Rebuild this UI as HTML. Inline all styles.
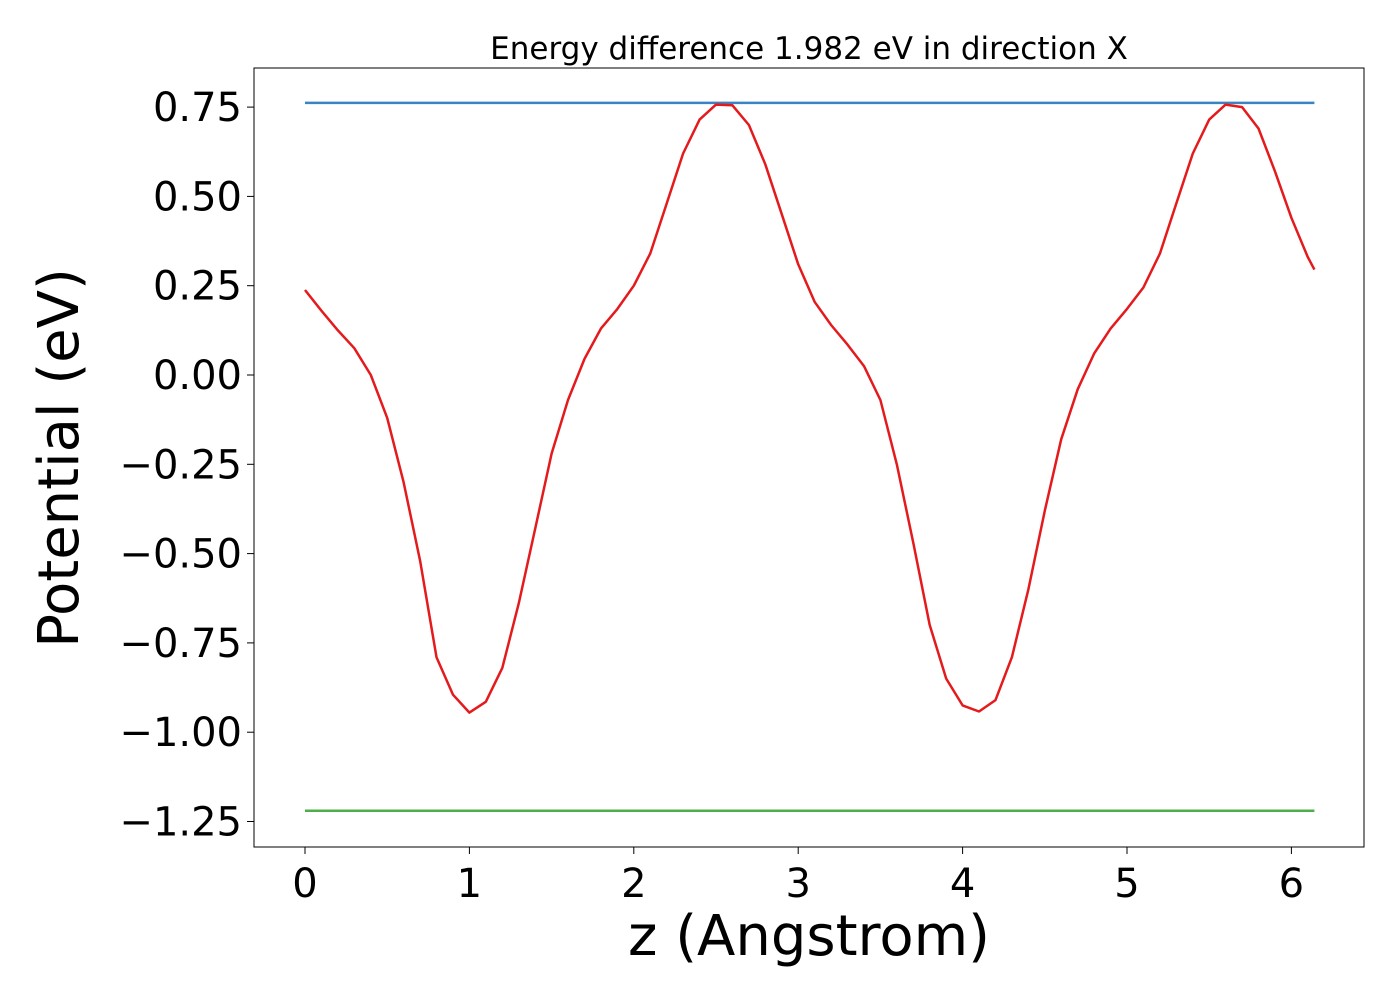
<!DOCTYPE html>
<html><head><meta charset="utf-8"><style>
body{margin:0;background:#fff;}
svg text{font-family:"DejaVu Sans","Liberation Sans",sans-serif;fill:#000;}
</style></head><body>
<svg id="chart" width="1400" height="1000" xmlns="http://www.w3.org/2000/svg">
<rect width="1400" height="1000" fill="#fff"/>
<g id="plot"></g>
</svg>
<script>
const zValues=[0,0.1,0.2,0.3,0.4,0.5,0.6,0.7,0.8,0.9,1.0,1.1,1.2,1.3,1.4,1.5,1.6,1.7,1.8,1.9,2.0,2.1,2.2,2.3,2.4,2.5,2.6,2.7,2.8,2.9,3.0,3.1,3.2,3.3,3.4,3.5,3.6,3.7,3.8,3.9,4.0,4.1,4.2,4.3,4.4,4.5,4.6,4.7,4.8,4.9,5.0,5.1,5.2,5.3,5.4,5.5,5.6,5.7,5.8,5.9,6.0,6.1,6.14];
const potential=[0.238,0.18,0.125,0.075,0.0,-0.12,-0.30,-0.52,-0.79,-0.895,-0.945,-0.915,-0.82,-0.64,-0.43,-0.22,-0.07,0.045,0.13,0.185,0.25,0.34,0.48,0.62,0.715,0.757,0.755,0.70,0.59,0.45,0.31,0.205,0.14,0.085,0.025,-0.07,-0.25,-0.47,-0.70,-0.85,-0.925,-0.942,-0.91,-0.79,-0.60,-0.38,-0.18,-0.04,0.06,0.13,0.185,0.245,0.34,0.48,0.62,0.715,0.757,0.75,0.69,0.57,0.44,0.33,0.295];
const vbmLevel=[0.762];
const cbmLevel=[-1.22];
const lineRange=[0,6.14];
const xTicks=[0,1,2,3,4,5,6];
const yTicks=[0.75,0.5,0.25,0,-0.25,-0.5,-0.75,-1.0,-1.25];
const yTickLabels=["0.75","0.50","0.25","0.00","\u22120.25","\u22120.50","\u22120.75","\u22121.00","\u22121.25"];

const L=254,R=1364,T=68,B=847;
const xs=v=>305+v*164.4;
const ys=v=>375-v*357.2;
const NS="http://www.w3.org/2000/svg";
const g=document.getElementById('plot');
function mk(tag,attrs,parent){const e=document.createElementNS(NS,tag);for(const k in attrs)e.setAttribute(k,attrs[k]);(parent||g).appendChild(e);return e;}

// lines
let l1=mk('line',{x1:xs(lineRange[0]),x2:xs(lineRange[1]),y1:ys(vbmLevel[0]),y2:ys(vbmLevel[0]),stroke:'#3a84c4','stroke-width':2.5});


let l2=mk('line',{x1:xs(lineRange[0]),x2:xs(lineRange[1]),y1:ys(cbmLevel[0]),y2:ys(cbmLevel[0]),stroke:'#4daf4a','stroke-width':2.5});


let d=zValues.map((z,i)=>(i?'L':'M')+xs(z).toFixed(1)+','+ys(potential[i]).toFixed(1)).join(' ');
let p=mk('path',{d:d,fill:'none',stroke:'#e41a1c','stroke-width':2.5,'stroke-linejoin':'round'});



// frame
let fr=mk('rect',{x:L,y:T,width:R-L,height:B-T,fill:'none',stroke:'#000','stroke-width':1});



xTicks.forEach(t=>{
  mk('line',{x1:xs(t),x2:xs(t),y1:B,y2:B+7,stroke:'#000','stroke-width':1});
  let tx=mk('text',{x:xs(t),y:B+50,'font-size':40,'text-anchor':'middle'});
  tx.textContent=t;
  
  
});
yTicks.forEach((t,i)=>{
  mk('line',{x1:L-7,x2:L,y1:ys(t),y2:ys(t),stroke:'#000','stroke-width':1});
  let tx=mk('text',{x:L-12,y:ys(t)+14,'font-size':40,'text-anchor':'end'});
  tx.textContent=yTickLabels[i];
  
  
});
let title=mk('text',{x:809,y:59,'font-size':31,'text-anchor':'middle'});
title.textContent='Energy difference 1.982 eV in direction X';


let xl=mk('text',{x:809,y:955,'font-size':56,'text-anchor':'middle'});
xl.textContent='z (Angstrom)';


let yl=mk('text',{x:0,y:0,'font-size':56,'text-anchor':'middle',transform:'translate(78,458) rotate(-90)'});
yl.textContent='Potential (eV)';


</script>
</body></html>
